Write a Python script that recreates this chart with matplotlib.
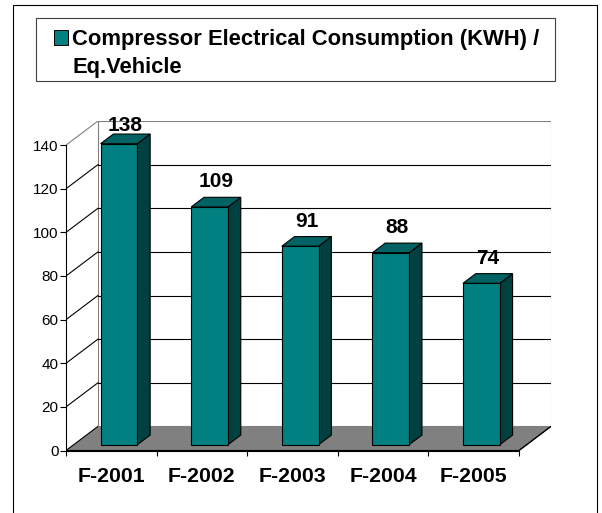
import matplotlib
matplotlib.use("Agg")
import matplotlib.pyplot as plt
from matplotlib.patches import Polygon, Rectangle

plt.rcParams["font.family"] = ["Liberation Sans", "DejaVu Sans"]

categories = ["F-2001", "F-2002", "F-2003", "F-2004", "F-2005"]
values = [138, 109, 91, 88, 74]
y_ticks = [0, 20, 40, 60, 80, 100, 120, 140]
legend_label = "Compressor Electrical Consumption (KWH) /\nEq.Vehicle"

# colours of the fake 3d bars
FRONT = "#008080"
SIDE = "#004040"
TOP = "#006262"
FLOOR = "#808080"

# depth of the box in data units (x: categories, y: values)
DX = 0.353
DY = 11.06
D0, D1 = 0.24, 0.64   # bar sits between these depth fractions
HALF_W = 0.203
YMAX = 140
LW = 0.8


def proj(x, y, d):
    return (x + d * DX, y + d * DY)


fig = plt.figure(figsize=(6.02, 5.13), dpi=100)
W, H = 602, 513

# outer chart frame and legend box (pixels -> figure fraction)
fig.patches.append(Rectangle((12.5 / W, -0.05), (597 - 12.5) / W, 1.05 - 4.5 / H,
                             transform=fig.transFigure, fill=False,
                             edgecolor="black", lw=LW))
fig.patches.append(Rectangle((35.7 / W, 1 - 80.7 / H), (555 - 35.7) / W, (80.7 - 18.3) / H,
                             transform=fig.transFigure, fill=False,
                             edgecolor="#404040", lw=LW))
fig.patches.append(Rectangle((53.5 / W, 1 - 45 / H), 14.5 / W, 14.5 / H,
                             transform=fig.transFigure, facecolor=FRONT,
                             edgecolor="black", lw=0.7))
line1, line2 = legend_label.split("\n")
fig.text(72.5 / W, 1 - 45.5 / H, line1, fontsize=15.8, fontweight="bold",
         va="baseline", ha="left")
fig.text(72.5 / W, 1 - 72.5 / H, line2, fontsize=15.8, fontweight="bold",
         va="baseline", ha="left")

n = len(categories)
ax = fig.add_axes([66 / W, (H - 450.5) / H, (551 - 66) / W, (450.5 - 121) / H])
ax.set_xlim(0, n + DX)
ax.set_ylim(0, YMAX + DY)
ax.patch.set_visible(False)

# floor
ax.add_patch(Polygon([proj(0, 0, 0), proj(n, 0, 0), proj(n, 0, 1), proj(0, 0, 1)],
                     closed=True, facecolor=FLOOR, edgecolor="black", lw=LW, zorder=1))
# back wall
bx, by = proj(0, 0, 1)
ax.add_patch(Rectangle((bx, by), n, YMAX, facecolor="white",
                       edgecolor="#808080", lw=LW, zorder=1.1))
for t in y_ticks[1:]:
    x0, y0 = proj(0, t, 0)
    x1, y1 = proj(0, t, 1)
    ax.plot([x0, x1], [y0, y1], color="black" if t < YMAX else "#808080",
            lw=LW, zorder=1.2)
    if t < YMAX:
        ax.plot([x1, x1 + n], [y1, y1], color="black", lw=LW, zorder=1.2)
ax.plot([n, n + DX], [0, DY], color="black", lw=LW, zorder=1.3)

# bars
for i, v in enumerate(values):
    xl = i + 0.5 - HALF_W
    xr = i + 0.5 + HALF_W
    front = [proj(xl, 0, D0), proj(xr, 0, D0), proj(xr, v, D0), proj(xl, v, D0)]
    side = [proj(xr, 0, D0), proj(xr, 0, D1), proj(xr, v, D1), proj(xr, v, D0)]
    top = [proj(xl, v, D0), proj(xr, v, D0), proj(xr, v, D1), proj(xl, v, D1)]
    for pts, c in ((side, SIDE), (top, TOP), (front, FRONT)):
        ax.add_patch(Polygon(pts, closed=True, facecolor=c, edgecolor="black",
                             lw=LW, zorder=3))
    lx, _ = proj(i + 0.5, v, (D0 + D1) / 2)
    ly = min(v + D1 * DY + 4.6, 146.5)
    ax.text(lx, ly, str(v), ha="center", va="baseline", fontsize=15,
            fontweight="bold", zorder=4, clip_on=False)

# axes
for s in ("top", "right"):
    ax.spines[s].set_visible(False)
for s in ("left", "bottom"):
    ax.spines[s].set_linewidth(LW)
    ax.spines[s].set_zorder(2.5)
ax.spines["left"].set_bounds(0, YMAX)
ax.spines["bottom"].set_bounds(0, n)
ax.set_yticks(y_ticks)
ax.set_yticklabels([str(t) for t in y_ticks], fontsize=11)
ax.tick_params(axis="y", direction="out", length=4.3, width=LW, pad=1)
ax.set_xticks(range(n + 1))
ax.set_xticklabels([""] * (n + 1))
ax.set_xticks([i + 0.5 for i in range(n)], minor=True)
ax.set_xticklabels(categories, minor=True, fontsize=15.3, fontweight="bold")
ax.tick_params(axis="x", which="major", direction="out", length=3.6, width=LW)
ax.tick_params(axis="x", which="minor", length=0, pad=12)

fig.savefig("out.png", dpi=100)
